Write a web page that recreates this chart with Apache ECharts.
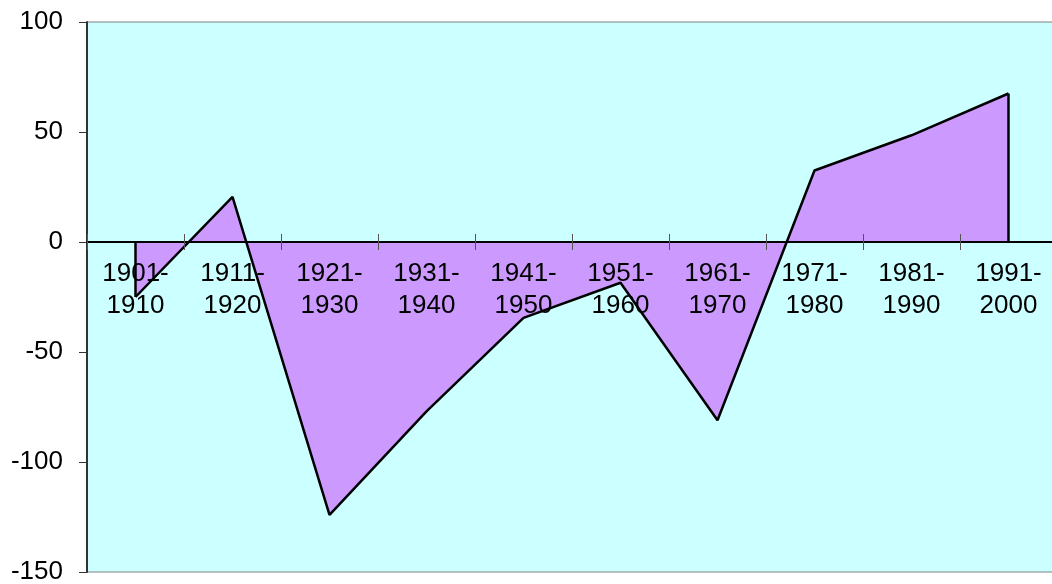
<!DOCTYPE html>
<html>
<head>
<meta charset="utf-8">
<script src="https://cdn.jsdelivr.net/npm/echarts@6/dist/echarts.min.js"></script>
<style>
  html, body { margin: 0; padding: 0; background: #fff; }
  #chart { width: 1052px; height: 584px; }
</style>
</head>
<body>
<div id="chart"></div>
<script>
// decades and their values
const decades = ['1901-1910', '1911-1920', '1921-1930', '1931-1940', '1941-1950',
  '1951-1960', '1961-1970', '1971-1980', '1981-1990', '1991-2000']
const values = [-25, 20.5, -124, -77, -34.5, -18.5, -81, 32.5, 48.5, 67.5]
const yTicks = { min: -150, max: 100, step: 50 }

let myChart = echarts.init(document.getElementById('chart'))

const gridH = 550
// distance of the zero line from the bottom of the plot
const zeroFromBottom = gridH * (0 - yTicks.min) / (yTicks.max - yTicks.min)
const last = decades.length - 1
let option = {
  animation: false,
  grid: {
    left: 87,
    top: 22,
    height: gridH,
    width: 970,
    outerBoundsMode: 'none',
    containLabel: false,
    show: true,
    backgroundColor: '#CCFFFF',
    borderColor: '#808080',
    borderWidth: 1
  },
  xAxis: [{
    type: 'category',
    data: decades,
    boundaryGap: true,
    position: 'bottom',
    offset: -zeroFromBottom,
    z: 10,
    axisLine: { onZero: false, lineStyle: { color: '#000', width: 2 } },
    axisTick: { show: true, inside: true, length: 8, lineStyle: { color: '#555' } },
    axisLabel: {
      color: '#000',
      fontFamily: 'Liberation Sans',
      fontSize: 26,
      lineHeight: 32,
      margin: 16,
      formatter: function (v) { return v.replace('-', '-\n') }
    },
    splitLine: { show: false }
  }, {
    // second copy only for the lower half of the crossing ticks
    type: 'category',
    data: decades,
    boundaryGap: true,
    position: 'bottom',
    offset: -zeroFromBottom,
    z: 10,
    axisLine: { show: false, onZero: false },
    axisTick: { show: true, inside: false, length: 8, lineStyle: { color: '#555' } },
    axisLabel: { show: false },
    splitLine: { show: false }
  }],
  yAxis: {
    type: 'value',
    min: yTicks.min,
    max: yTicks.max,
    interval: yTicks.step,
    axisLine: { show: true, lineStyle: { color: '#333', width: 2 } },
    axisTick: { show: true, length: 8, lineStyle: { color: '#333' } },
    axisLabel: {
      color: '#000',
      fontFamily: 'Liberation Sans',
      fontSize: 26,
      margin: 24
    },
    splitLine: { show: false }
  },
  series: [{
    type: 'line',
    data: values,
    symbol: 'none',
    lineStyle: { color: '#000', width: 2.5 },
    areaStyle: { color: '#CC99FF', opacity: 1, origin: 0 },
    z: 2,
    // closing edges of the polygon at both ends
    markLine: {
      silent: true,
      symbol: 'none',
      label: { show: false },
      lineStyle: { color: '#000', width: 2.5, type: 'solid' },
      data: [
        [{ coord: [decades[0], 0] }, { coord: [decades[0], values[0]] }],
        [{ coord: [decades[last], 0] }, { coord: [decades[last], values[last]] }]
      ]
    }
  }]
}
myChart.setOption(option)
window.addEventListener('resize', function () {
  myChart.resize();
})
</script>
</body>
</html>
